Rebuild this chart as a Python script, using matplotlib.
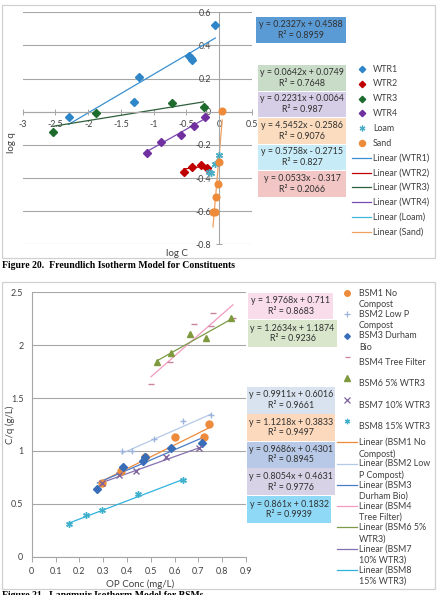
import matplotlib
matplotlib.use("Agg")
import matplotlib.pyplot as plt
import numpy as np
from matplotlib.patches import Rectangle
from matplotlib.lines import Line2D

plt.rcParams['font.family'] = ['Lato', 'DejaVu Sans']

W, H = 437, 595

# ---------------- Data: Freundlich (top) ----------------
top_series = ["WTR1", "WTR2", "WTR3", "WTR4", "Loam", "Sand"]
wtr1_x = [-2.30, -1.30, -1.22, -0.46, -0.43, -0.41, -0.06]
wtr1_y = [-0.034, 0.060, 0.208, 0.335, 0.325, 0.315, 0.525]
wtr2_x = [-0.54, -0.42, -0.285, -0.18]
wtr2_y = [-0.364, -0.331, -0.319, -0.341]
wtr3_x = [-2.53, -1.88, -0.72, -0.24]
wtr3_y = [-0.121, -0.010, 0.053, 0.026]
wtr4_x = [-1.10, -0.885, -0.58, -0.39, -0.21]
wtr4_y = [-0.247, -0.182, -0.139, -0.087, -0.034]
loam_x = [-0.15, -0.12, -0.07, -0.01]
loam_y = [-0.362, -0.372, -0.313, -0.263]
sand_x = [-0.096, -0.062, -0.05, -0.026, 0.0, 0.046]
sand_y = [-0.604, -0.604, -0.515, -0.434, -0.305, 0.006]
top_slopes = [0.2327, 0.0533, 0.0642, 0.2231, 0.5758, 4.5452]
top_intercepts = [0.4588, -0.317, 0.0749, 0.0064, -0.2715, -0.2586]
top_r2 = ["0.8959", "0.2066", "0.7648", "0.987", "0.827", "0.9076"]
top_xticks = [-3, -2.5, -2, -1.5, -1, -0.5, 0, 0.5]
top_xticklabels = ["-3", "-2.5", "-2", "-1.5", "-1", "-0.5", "0", "0.5"]
top_yticks = [-0.8, -0.6, -0.4, -0.2, 0, 0.2, 0.4, 0.6]
top_yticklabels = ["-0.8", "-0.6", "-0.4", "-0.2", "0", "0.2", "0.4", "0.6"]

# ---------------- Data: Langmuir (bottom) ----------------
bot_series = ["BSM1 No\nCompost", "BSM2 Low P\nCompost", "BSM3 Durham\nBio",
              "BSM4 Tree Filter", "BSM6 5% WTR3", "BSM7 10% WTR3", "BSM8 15% WTR3"]
bot_lin_labels = ["Linear (BSM1 No\nCompost)", "Linear (BSM2 Low\nP Compost)",
                  "Linear (BSM3\nDurham Bio)", "Linear (BSM4\nTree Filter)",
                  "Linear (BSM6 5%\nWTR3)", "Linear (BSM7\n10% WTR3)",
                  "Linear (BSM8\n15% WTR3)"]
bsm1_x = [0.297, 0.375, 0.476, 0.603, 0.722, 0.745]
bsm1_y = [0.694, 0.813, 0.946, 1.129, 1.129, 1.255]
bsm2_x = [0.378, 0.423, 0.515, 0.637, 0.754]
bsm2_y = [0.999, 0.999, 1.110, 1.283, 1.340]
bsm3_x = [0.276, 0.385, 0.466, 0.476, 0.587, 0.715]
bsm3_y = [0.637, 0.845, 0.905, 0.940, 1.031, 1.072]
bsm4_x = [0.501, 0.581, 0.682, 0.752, 0.761, 0.845]
bsm4_y = [1.633, 1.844, 2.200, 2.180, 2.300, 2.254]
bsm6_x = [0.525, 0.584, 0.665, 0.733, 0.836]
bsm6_y = [1.844, 1.929, 2.106, 2.071, 2.254]
bsm7_x = [0.297, 0.367, 0.438, 0.564, 0.704]
bsm7_y = [0.694, 0.772, 0.813, 0.946, 1.025]
bsm8_x = [0.157, 0.227, 0.294, 0.445, 0.634]
bsm8_y = [0.309, 0.394, 0.441, 0.590, 0.725]
bot_slopes = [1.1218, 0.9911, 0.9686, 1.9768, 1.2634, 0.8054, 0.861]
bot_intercepts = [0.3833, 0.6016, 0.4301, 0.711, 1.1874, 0.4631, 0.1832]
bot_r2 = ["0.9497", "0.9661", "0.8945", "0.8683", "0.9236", "0.9776", "0.9939"]
bot_xticks = [0, 0.1, 0.2, 0.3, 0.4, 0.5, 0.6, 0.7, 0.8, 0.9]
bot_xticklabels = ["0", "0.1", "0.2", "0.3", "0.4", "0.5", "0.6", "0.7", "0.8", "0.9"]
bot_yticks = [0, 0.5, 1, 1.5, 2, 2.5]
bot_yticklabels = ["0", "0.5", "1", "1.5", "2", "2.5"]


def fx(px):
    return px / W


def fy(py):
    return 1 - py / H


fig = plt.figure(figsize=(W / 100, H / 100), dpi=100)
fig.patch.set_facecolor("white")

# chart frames
for (x0, y0, x1, y1) in [(2, 5, 435, 258), (2, 282, 435, 589)]:
    fig.patches.append(Rectangle((fx(x0), fy(y1)), fx(x1) - fx(x0), fy(y0) - fy(y1),
                                 transform=fig.transFigure, fill=False,
                                 edgecolor="#D0D0D0", lw=0.9))

TXT = "#404040"
FS = 6.4

# ---------------- Top chart ----------------
ax1 = fig.add_axes([fx(22.7), fy(244.3), fx(252) - fx(22.7), fy(12.3) - fy(244.3)])
ax1.set_xlim(-3, 0.5)
ax1.set_ylim(-0.8, 0.6)
ax1.set_facecolor("none")
for s in ["top", "right"]:
    ax1.spines[s].set_visible(False)
ax1.spines["left"].set_position(("data", 0))
ax1.spines["bottom"].set_position(("data", 0))
for s in ["left", "bottom"]:
    ax1.spines[s].set_color("#A6A6A6")
    ax1.spines[s].set_linewidth(0.8)
ax1.set_yticks(top_yticks)
ax1.set_yticklabels(top_yticklabels)
ax1.set_xticks(top_xticks)
ax1.set_xticklabels(top_xticklabels)
ax1.tick_params(axis="both", direction="inout", length=4, width=0.7, color="#A6A6A6",
                labelsize=FS, labelcolor=TXT)
ax1.tick_params(axis="x", pad=4)
ax1.tick_params(axis="y", pad=4)
ax1.grid(axis="y", color="#A6A6A6", lw=0.8)
ax1.set_axisbelow(True)

top_colors = ["#2E86C8", "#C00000", "#1E6B2E", "#7030A0", "#4BACC6", "#ED8B3A"]
top_line_colors = ["#3A8FD0", "#C00000", "#2F5E3A", "#7A4AB0", "#3FB8D8", "#F0A060"]
top_markers = ["D", "D", "D", "D", (6, 2, 0), "o"]
top_ms = [3.6, 3.6, 3.6, 3.6, 5.0, 4.8]
top_x = [wtr1_x, wtr2_x, wtr3_x, wtr4_x, loam_x, sand_x]
top_y = [wtr1_y, wtr2_y, wtr3_y, wtr4_y, loam_y, sand_y]

for xs, ys, c, lc, m, ms, sl, ic in zip(top_x, top_y, top_colors, top_line_colors,
                                         top_markers, top_ms, top_slopes, top_intercepts):
    xx = np.array([min(xs), max(xs)])
    ax1.plot(xx, sl * xx + ic, color=lc, lw=0.9, zorder=2)
    if m == (6, 2, 0):
        ax1.plot(xs, ys, linestyle="none", marker=m, ms=ms, mec=c, mew=1.0, zorder=3)
    else:
        ax1.plot(xs, ys, linestyle="none", marker=m, ms=ms, color=c, mec=c, zorder=3)

fig.text(fx(12), fy(143), "log q", rotation=90, ha="center", va="center", fontsize=FS + 0.6, color=TXT)
fig.text(fx(177), fy(253), "log C", ha="center", va="center", fontsize=FS + 0.6, color=TXT)

# trendline label boxes (top)
top_box_order = [0, 2, 3, 5, 4, 1]
top_box_colors = ["#5B9BD5", "#C8DCC8", "#D6CEE6", "#FCDCBE", "#C7EBF7", "#F3C6C6"]
top_box_ys = [(16.7, 43.3), (65, 90.5), (91.5, 117), (118, 143.5), (144.5, 170), (171, 197)]
for k, (i, bc, (y0, y1)) in enumerate(zip(top_box_order, top_box_colors, top_box_ys)):
    x0, x1 = (256, 346) if k == 0 else (258, 346)
    fig.patches.append(Rectangle((fx(x0), fy(y1)), fx(x1) - fx(x0), fy(y0) - fy(y1),
                                 transform=fig.transFigure, facecolor=bc, edgecolor="none"))
    sign = "+" if top_intercepts[i] >= 0 else "-"
    txt = f"y = {top_slopes[i]}x {sign} {abs(top_intercepts[i])}\nR² = {top_r2[i]}"
    fig.text(fx((x0 + x1) / 2), fy((y0 + y1) / 2), txt, ha="center", va="center",
             fontsize=FS, color="#303030", linespacing=1.25)

# legend (top)
for i in range(12):
    yy = 69 + 14.8 * i
    if i < 6:
        m = top_markers[i]
        if m == (6, 2, 0):
            h = Line2D([fx(361.7)], [fy(yy)], marker=m, ms=4.2, mec=top_colors[i], mew=0.9,
                       linestyle="none", transform=fig.transFigure)
        else:
            h = Line2D([fx(361.7)], [fy(yy)], marker=m, ms=top_ms[i] * 0.9, color=top_colors[i],
                       linestyle="none", transform=fig.transFigure)
        lab = top_series[i]
    else:
        j = i - 6
        h = Line2D([fx(352), fx(371)], [fy(yy), fy(yy)], color=top_line_colors[j], lw=0.9,
                   transform=fig.transFigure)
        lab = f"Linear ({top_series[j]})"
    fig.lines.append(h)
    fig.text(fx(373), fy(yy), lab, ha="left", va="center", fontsize=FS, color=TXT)

# captions
fig.text(fx(2), fy(265.5), "Figure 20.  Freundlich Isotherm Model for Constituents",
         ha="left", va="center", fontsize=7, fontweight="bold", family="Liberation Serif", color="black")
fig.text(fx(2), fy(591.5), "Figure 21.  Langmuir Isotherm Model for BSMs",
         ha="left", va="top", fontsize=7, fontweight="bold", family="Liberation Serif", color="black")

# ---------------- Bottom chart ----------------
ax2 = fig.add_axes([fx(31.7), fy(556.7), fx(246) - fx(31.7), fy(292.3) - fy(556.7)])
ax2.set_xlim(0, 0.9)
ax2.set_ylim(0, 2.5)
ax2.set_facecolor("none")
for s in ["top", "right"]:
    ax2.spines[s].set_visible(False)
for s in ["left", "bottom"]:
    ax2.spines[s].set_color("#A6A6A6")
    ax2.spines[s].set_linewidth(0.8)
ax2.set_xticks(bot_xticks)
ax2.set_xticklabels(bot_xticklabels)
ax2.set_yticks(bot_yticks)
ax2.set_yticklabels(bot_yticklabels)
ax2.tick_params(axis="x", direction="out", length=3.5, width=0.7, color="#A6A6A6",
                labelsize=FS, labelcolor=TXT, pad=4)
ax2.tick_params(axis="y", length=0, labelsize=FS, labelcolor=TXT, pad=6)
ax2.grid(axis="y", color="#A6A6A6", lw=0.8)
ax2.set_axisbelow(True)
fig.text(fx(140), fy(584), "OP Conc (mg/L)", ha="center", va="center", fontsize=FS + 0.6, color=TXT)
fig.text(fx(10), fy(425), "C/q (g/L)", rotation=90, ha="center", va="center",
         fontsize=FS + 0.6, color=TXT)

bot_x = [bsm1_x, bsm2_x, bsm3_x, bsm4_x, bsm6_x, bsm7_x, bsm8_x]
bot_y = [bsm1_y, bsm2_y, bsm3_y, bsm4_y, bsm6_y, bsm7_y, bsm8_y]
bot_colors = ["#ED8B3A", "#9DB4DD", "#3A6DB8", "#C8849C", "#7F9A3E", "#7E649E", "#3FB0CC"]
bot_line_colors = ["#ED8B3A", "#B4C8E8", "#4A7CC8", "#F29AC0", "#7C9A48", "#8470B0", "#2FB3DE"]
bot_markers = ["o", "+", "D", "_", "^", "x", (6, 2, 0)]
bot_ms = [5.0, 5.0, 3.6, 4.5, 4.8, 4.6, 4.8]

for xs, ys, c, lc, m, ms, sl, ic in zip(bot_x, bot_y, bot_colors, bot_line_colors, bot_markers,
                                         bot_ms, bot_slopes, bot_intercepts):
    xx = np.array([min(xs), max(xs)])
    ax2.plot(xx, sl * xx + ic, color=lc, lw=0.9, zorder=2)
    if m in ("+", "x", "_", (6, 2, 0)):
        ax2.plot(xs, ys, linestyle="none", marker=m, ms=ms, mec=c, mew=1.0, zorder=3)
    else:
        ax2.plot(xs, ys, linestyle="none", marker=m, ms=ms, color=c, mec=c, zorder=3)

# trendline boxes (bottom)
bot_box_order = [3, 4, 1, 0, 2, 5, 6]
bot_box_colors = ["#FADDEB", "#D9E6CC", "#D8E3EF", "#FCD9BC", "#B7C9E6", "#D8D2E6", "#8FD9F6"]
bot_box_geo = [(248, 333, 293, 318.5), (248, 337, 320, 347), (247, 335, 387, 413.5),
               (247, 335, 414.5, 440.5), (247, 335, 441.5, 467.5), (247, 335, 468.5, 495),
               (247, 331, 496, 523)]
for i, bc, (x0, x1, y0, y1) in zip(bot_box_order, bot_box_colors, bot_box_geo):
    fig.patches.append(Rectangle((fx(x0), fy(y1)), fx(x1) - fx(x0), fy(y0) - fy(y1),
                                 transform=fig.transFigure, facecolor=bc, edgecolor="none"))
    txt = f"y = {bot_slopes[i]}x + {bot_intercepts[i]}\nR² = {bot_r2[i]}"
    fig.text(fx((x0 + x1) / 2), fy((y0 + y1) / 2), txt, ha="center", va="center",
             fontsize=FS, color="#303030", linespacing=1.25)

# legend (bottom)
leg_y = [293.3, 314.3, 336, 357, 378.3, 400, 421, 442.3, 463.7, 485, 506, 527.3, 548.7, 570]
for i, yy in enumerate(leg_y):
    if i < 7:
        m = bot_markers[i]
        if m in ("+", "x", "_", (6, 2, 0)):
            h = Line2D([fx(346.7)], [fy(yy)], marker=m, ms=bot_ms[i] * 0.8, mec=bot_colors[i],
                       mew=0.9, linestyle="none", transform=fig.transFigure)
        else:
            h = Line2D([fx(346.7)], [fy(yy)], marker=m, ms=bot_ms[i] * 0.8, color=bot_colors[i],
                       linestyle="none", transform=fig.transFigure)
        lab = bot_series[i]
    else:
        j = i - 7
        h = Line2D([fx(337), fx(357)], [fy(yy), fy(yy)], color=bot_line_colors[j], lw=0.9,
                   transform=fig.transFigure)
        lab = bot_lin_labels[j]
    fig.lines.append(h)
    fig.text(fx(359), fy(yy + 5.7), lab, ha="left", va="center", fontsize=FS, color=TXT,
             linespacing=1.35)

fig.savefig("out.png", dpi=100)
